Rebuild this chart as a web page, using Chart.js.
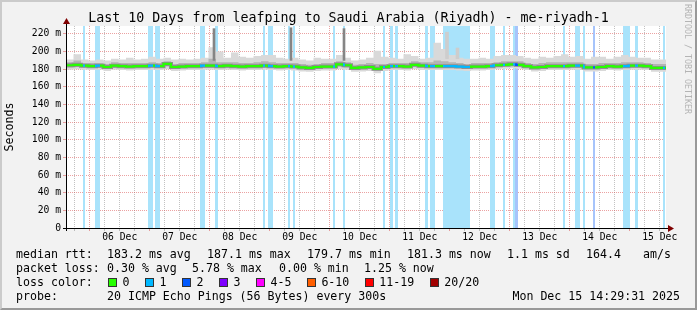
<!DOCTYPE html>
<html>
<head>
  <meta charset="UTF-8" />
  <title>Last 10 Days from leafping to Saudi Arabia (Riyadh) - me-riyadh-1</title>
  <script src="https://cdn.jsdelivr.net/npm/chart.js@4.4.1/dist/chart.umd.min.js"></script>
  <style>
    html, body { margin: 0; padding: 0; }
    body {
      width: 697px; height: 310px; overflow: hidden; position: relative;
      background: #f2f2f2; color: #000;
      font-family: "DejaVu Sans Mono", monospace;
    }
    #frame {
      position: absolute; left: 0; top: 0; width: 697px; height: 310px; box-sizing: border-box;
      border-top: 2px solid #cbcbcb; border-left: 2px solid #cbcbcb;
      border-right: 2px solid #999; border-bottom: 2px solid #999;
      pointer-events: none;
    }
    #chart { position: absolute; left: 0; top: 0; }
    #title {
      position: absolute; left: 0; top: 10px; width: 697px; text-align: center;
      font-size: 13.3px; line-height: 16px; white-space: pre;
    }
    #wm {
      position: absolute; left: 683px; top: 4px; writing-mode: vertical-rl;
      font-size: 8.3px; line-height: 10px; color: #b4b4b4; white-space: pre;
    }
    .txt { position: absolute; white-space: pre; font-size: 11.6px; line-height: 14px; }
    #lossLegend { position: absolute; left: 108px; top: 275px; height: 14px; display: flex; align-items: center; }
    #lossLegend .item { display: flex; align-items: center; font-size: 11.6px; line-height: 14px; margin-right: 15.5px; white-space: pre; }
    #lossLegend .box { width: 7px; height: 7px; border: 1px solid #333; margin-right: 5.5px; }
  </style>
</head>
<body>
  <canvas id="chart" width="697" height="310"></canvas>
  <div id="title">Last 10 Days from leafping to Saudi Arabia (Riyadh) - me-riyadh-1</div>
  <div id="wm">RRDTOOL / TOBI OETIKER</div>
  <div id="legend"></div>
  <div id="lossLegend"></div>
  <div id="frame"></div>

  <script>
    // time axis: hours since Dec 5 14:29:31, ten days
    const startHour = 14 + 29 / 60 + 31 / 3600;
    const spanHours = 240;
    const stepHours = 3;
    const yTop = 229;

    const dayLabels = ['06 Dec', '07 Dec', '08 Dec', '09 Dec', '10 Dec',
                       '11 Dec', '12 Dec', '13 Dec', '14 Dec', '15 Dec'];
    const yTickValues = [0, 10, 20, 30, 40, 50, 60, 70, 80, 90, 100,
                         110, 120, 130, 140, 150, 160, 170, 180, 190, 200, 210, 220];

    // one value per 3 hour column (ms)
    const median = [
      183.5, 184.5, 185, 184, 183.5, 184, 182.5, 184, 183.5, 183,
      183.5, 183.5, 184, 183.5, 186, 182.5, 183, 183.5, 183.5, 184,
      184, 183.5, 184, 183.5, 183, 183.5, 183.5, 184, 183.5, 183,
      183.5, 183, 182, 181.5, 182.5, 183, 183, 185.5, 184.5, 181.5,
      182, 182.5, 180.5, 182.5, 183.5, 183.5, 183, 185, 184, 183.5,
      183.5, 183.5, 183.5, 183, 182.5, 183, 183, 183.5, 184.5, 185,
      185.5, 185, 183.5, 182, 182.5, 183.5, 183.5, 183.5, 184, 184,
      182, 182, 182.5, 183.5, 183, 183.5, 184, 184, 183.5, 181.5
    ];
    const smokeMax = [
      189, 191, 197, 191, 190, 191, 190, 192, 191, 193,
      191, 192, 194, 192, 193, 191, 192, 191, 192, 193,
      205, 200, 193, 199, 194, 193, 195, 196, 196, 193,
      192, 193, 191, 190, 193, 192, 192, 196, 193, 190,
      191, 193, 201, 194, 193, 192, 197, 195, 192, 193,
      210, 203, 196, 193, 192, 192, 193, 192, 195, 196,
      196, 195, 193, 192, 194, 193, 195, 197, 194, 195,
      192, 194, 194, 192, 194, 196, 194, 193, 193, 191
    ];
    const smokeHi = [
      187, 188, 190, 187, 187, 187, 186, 188, 187, 187,
      187, 187, 188, 187, 189, 186, 187, 187, 187, 188,
      192, 188, 188, 188, 187, 187, 188, 189, 188, 187,
      187, 187, 186, 185, 186, 187, 187, 189, 188, 185,
      186, 187, 186, 186, 187, 187, 187, 189, 188, 188,
      190, 189, 188, 187, 186, 187, 187, 187, 188, 189,
      189, 189, 187, 186, 187, 188, 188, 188, 188, 188,
      186, 186, 187, 187, 187, 188, 188, 188, 187, 186
    ];
    const smokeLo = [
      181.5, 182, 182.5, 182, 181.5, 182, 180.5, 182, 181.5, 181,
      181.5, 181.5, 182, 181.5, 183, 180.5, 181, 181.5, 181.5, 182,
      182, 181.5, 182, 181.5, 181, 181.5, 181.5, 182, 181.5, 181,
      181.5, 181, 180, 179.5, 180.5, 181, 181, 183, 182, 179.5,
      180, 180.5, 178.5, 180.5, 181.5, 181.5, 181, 183, 182, 181.5,
      181.5, 181.5, 181.5, 181, 180.5, 181, 181, 181.5, 182.5, 183,
      183.5, 183, 181.5, 180, 180.5, 181.5, 181.5, 181.5, 182, 182,
      180, 180, 180.5, 181.5, 181, 181.5, 182, 182, 181.5, 179.5
    ];
    const smokeMin = [
      179, 179.5, 180, 179.5, 179, 179.5, 178, 179.5, 179, 178.5,
      179, 179, 179.5, 179, 180, 178, 178.5, 179, 179, 179.5,
      179.5, 179, 179.5, 179, 178.5, 179, 179, 179.5, 179, 178.5,
      179, 178.5, 177.5, 177, 178, 178.5, 178.5, 180, 179.5, 177,
      177.5, 178, 175.5, 178, 179, 179, 178.5, 180, 179, 179,
      179, 179, 179, 178.5, 178, 178.5, 178.5, 179, 180, 180.5,
      181, 180.5, 179, 177.5, 178, 179, 179, 179, 179.5, 179.5,
      177.5, 177.5, 178, 179, 178.5, 179, 179.5, 179.5, 179, 177
    ];

    // single tall smoke columns
    const darkSpikeHours = [59.2, 90.0, 111.2];
    const darkSpikeBase = [190, 190, 190];
    const darkSpikeTop = [226, 227, 226];
    const lightSpikeHours = [152.4, 156.6];
    const lightSpikeBase = [192, 192];
    const lightSpikeTop = [222, 204];

    // packet loss periods (hours) and loss level
    const lossStart = [6.8, 11.6, 32.8, 35.6, 53.6, 59.6, 78.8, 80.8, 88.8, 90.8,
                       106.8, 110.8, 126.8, 129.6, 131.6, 143.6, 145.6, 150.8, 169.6, 174.8,
                       178.8, 179.6, 198.8, 203.6, 206.8, 210.8, 222.8, 227.6, 238.8];
    const lossEnd   = [7.6, 13.6, 34.8, 37.6, 55.6, 60.8, 79.6, 82.8, 89.6, 91.6,
                       107.6, 111.6, 127.6, 130.8, 132.8, 144.8, 147.6, 161.6, 171.6, 175.6,
                       179.6, 180.8, 199.6, 205.6, 207.6, 211.6, 225.6, 228.8, 239.6];
    const lossLevel = [1, 1, 1, 1, 1, 1, 1, 1, 1, 1,
                       1, 1, 1, 1, 1, 1, 1, 1, 1, 1,
                       1, 2, 1, 1, 1, 2, 1, 1, 1];

    const rttStats = ['183.2 ms avg', '187.1 ms max', '179.7 ms min', '181.3 ms now', '1.1 ms sd', '164.4', 'am/s'];
    const lossStats = ['0.30 % avg', '5.78 % max', '0.00 % min', '1.25 % now'];
    const lossLabels = ['0', '1', '2', '3', '4-5', '6-10', '11-19', '20/20'];
    const lossColors = ['#26ff00', '#00b8ff', '#0059ff', '#7e00ff', '#ff00ff', '#ff5e00', '#ff0000', '#a10000'];
    const probeText = '20 ICMP Echo Pings (56 Bytes) every 300s';
    const dateText = 'Mon Dec 15 14:29:31 2025';

    const barColors = { 1: '#a9e3fb', 2: '#a6c4fb' };
    const majorGrid = 'rgba(215, 70, 70, 0.5)';
    const minorGrid = 'rgba(120, 120, 120, 0.45)';
    const mono = '"DejaVu Sans Mono", monospace';

    // ---- text legend under the plot ----
    const legend = document.getElementById('legend');
    function addText(str, x, y) {
      const d = document.createElement('div');
      d.className = 'txt';
      d.style.left = x + 'px';
      d.style.top = (y - 7) + 'px';
      d.textContent = str;
      legend.appendChild(d);
      return d;
    }
    const rttX = [107, 207, 307, 407, 507, 586, 643];
    const lossX = [107, 192, 279, 364];
    addText('median rtt:', 16, 254);
    rttStats.forEach((s, i) => addText(s, rttX[i], 254));
    addText('packet loss:', 16, 268);
    lossStats.forEach((s, i) => addText(s, lossX[i], 268));
    addText('loss color:', 16, 282);
    addText('probe:', 16, 296);
    addText(probeText, 107, 296);
    const dt = addText(dateText, 0, 296);
    dt.style.left = 'auto';
    dt.style.right = '17px';

    const lossLegend = document.getElementById('lossLegend');
    lossLabels.forEach((lab, i) => {
      const item = document.createElement('div');
      item.className = 'item';
      item.innerHTML = '<span class="box" style="background:' + lossColors[i] + '"></span>' + lab;
      lossLegend.appendChild(item);
    });

    // ---- chart ----
    function stepPoints(values) {
      const pts = values.map((v, i) => ({ x: i * stepHours, y: v }));
      pts.push({ x: spanHours, y: values[values.length - 1] });
      return pts;
    }

    function lossBand(level) {
      const pts = [];
      lossStart.forEach((s, i) => {
        if (lossLevel[i] !== level) return;
        pts.push({ x: s, y: yTop }, { x: lossEnd[i], y: yTop }, { x: lossEnd[i], y: null });
      });
      return pts;
    }

    function lossGradient(ctx) {
      const chart = ctx.chart;
      const area = chart.chartArea;
      if (!area) return lossColors[0];
      const xs = chart.scales.x;
      const w = area.right - area.left;
      const pos = h => Math.min(1, Math.max(0, (xs.getPixelForValue(h) - area.left) / w));
      const g = chart.ctx.createLinearGradient(area.left, 0, area.right, 0);
      g.addColorStop(0, lossColors[0]);
      lossStart.forEach((s, i) => {
        const c = lossColors[lossLevel[i]];
        const a = pos(s), b = pos(lossEnd[i]);
        g.addColorStop(a, lossColors[0]);
        g.addColorStop(a, c);
        g.addColorStop(b, c);
        g.addColorStop(b, lossColors[0]);
      });
      g.addColorStop(1, lossColors[0]);
      return g;
    }

    // grid every 6h, midnight lines red, labels at noon
    const firstMidnight = 24 - startHour;
    const xTickHours = [];
    for (let h = firstMidnight - 6; h <= spanHours; h += 6) xTickHours.push(h);

    const plotFrame = {
      id: 'plotFrame',
      beforeDraw(chart) {
        const { ctx, chartArea: a } = chart;
        ctx.save();
        ctx.fillStyle = '#ffffff';
        ctx.fillRect(a.left, a.top, a.right - a.left, a.bottom - a.top);
        ctx.restore();
      },
      afterDraw(chart) {
        const { ctx, chartArea: a } = chart;
        ctx.save();
        ctx.strokeStyle = '#000';
        ctx.lineWidth = 1;
        ctx.beginPath();
        ctx.moveTo(a.left + 0.5, a.bottom + 3);
        ctx.lineTo(a.left + 0.5, a.top - 4);
        ctx.moveTo(a.left - 3, a.bottom + 0.5);
        ctx.lineTo(a.right + 3, a.bottom + 0.5);
        ctx.stroke();
        ctx.fillStyle = '#7f0000';
        ctx.beginPath();
        ctx.moveTo(a.left + 0.5, a.top - 8);
        ctx.lineTo(a.left - 3, a.top - 2);
        ctx.lineTo(a.left + 4, a.top - 2);
        ctx.closePath();
        ctx.fill();
        ctx.beginPath();
        ctx.moveTo(a.right + 8, a.bottom + 0.5);
        ctx.lineTo(a.right + 2, a.bottom - 3);
        ctx.lineTo(a.right + 2, a.bottom + 4);
        ctx.closePath();
        ctx.fill();
        ctx.restore();
      }
    };

    const line = { pointRadius: 0, tension: 0, fill: false };

    new Chart(document.getElementById('chart'), {
      type: 'line',
      data: {
        datasets: [
          { ...line, label: 'loss 1', data: lossBand(1), fill: 'origin', backgroundColor: barColors[1], borderWidth: 0, order: 10 },
          { ...line, label: 'loss 2', data: lossBand(2), fill: 'origin', backgroundColor: barColors[2], borderWidth: 0, order: 9 },
          { ...line, label: 'max', data: stepPoints(smokeMax), stepped: 'after', fill: '+1', backgroundColor: '#d9d9d9', borderWidth: 0, order: 8 },
          { ...line, label: 'min', data: stepPoints(smokeMin), stepped: 'after', borderWidth: 0, order: 8 },
          {
            type: 'bar', label: 'light spikes', grouped: false, order: 7,
            data: lightSpikeHours.map((h, i) => ({ x: h, y: [lightSpikeBase[i], lightSpikeTop[i]] })),
            backgroundColor: '#cdcdcd', borderWidth: 0, barThickness: 3
          },
          { ...line, label: 'hi', data: stepPoints(smokeHi), stepped: 'after', fill: '+1', backgroundColor: '#b4b4b4', borderWidth: 0, order: 6 },
          { ...line, label: 'lo', data: stepPoints(smokeLo), stepped: 'after', borderWidth: 0, order: 6 },
          {
            type: 'bar', label: 'dark spikes', grouped: false, order: 5,
            data: darkSpikeHours.map((h, i) => ({ x: h, y: [darkSpikeBase[i], darkSpikeTop[i]] })),
            backgroundColor: '#858585', borderWidth: 0, barThickness: 2
          },
          { ...line, label: 'median shade', data: stepPoints(median), stepped: 'after', borderColor: '#8f8f8f', borderWidth: 4, order: 4 },
          { ...line, label: 'median', data: stepPoints(median), stepped: 'after', borderColor: lossGradient, borderWidth: 2.2, order: 3 }
        ]
      },
      options: {
        responsive: false,
        animation: false,
        devicePixelRatio: 1,
        layout: { padding: { left: 0, top: 26, right: 31, bottom: 60 } },
        plugins: { legend: { display: false }, tooltip: { enabled: false }, title: { display: false } },
        scales: {
          x: {
            type: 'linear', min: 0, max: spanHours, offset: false, z: 1,
            afterBuildTicks: s => { s.ticks = xTickHours.map(v => ({ value: v })); },
            afterFit: s => { s.height = 22; },
            ticks: {
              autoSkip: false, maxRotation: 0, minRotation: 0, padding: 1, color: '#000',
              font: { family: mono, size: 9.7 },
              callback: (v, i) => (i % 4 === 3 ? dayLabels[(i - 3) / 4] : '')
            },
            grid: {
              offset: false, tickLength: 3,
              color: c => (c.index % 4 === 1 ? majorGrid : minorGrid),
              tickColor: c => (c.index % 4 === 1 ? majorGrid : minorGrid)
            },
            border: { display: false, dash: [1, 1] }
          },
          y: {
            type: 'linear', min: 0, max: yTop, z: 1,
            afterBuildTicks: s => { s.ticks = yTickValues.map(v => ({ value: v })); },
            afterFit: s => { s.width = 66; },
            ticks: {
              padding: 2, color: '#000',
              font: { family: mono, size: 9.7 },
              callback: v => (v % 20 ? '' : (v ? v + ' m' : '0'))
            },
            grid: {
              tickLength: 3,
              color: c => (c.tick.value === 0 ? 'rgba(0,0,0,0)' : (c.tick.value % 20 ? minorGrid : majorGrid)),
              tickColor: c => (c.tick.value % 20 ? minorGrid : majorGrid)
            },
            border: { display: false, dash: [1, 1] },
            title: {
              display: true, text: 'Seconds', color: '#000',
              font: { family: mono, size: 11.6 },
              padding: { top: 3, bottom: 0 }
            }
          }
        }
      },
      plugins: [plotFrame]
    });
  </script>
</body>
</html>
